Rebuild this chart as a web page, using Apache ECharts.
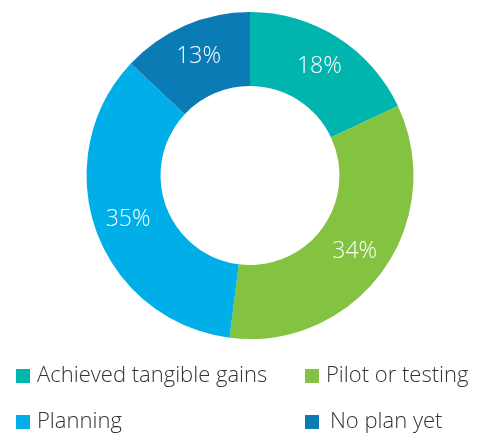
<!DOCTYPE html>
<html><head><meta charset="utf-8">
<script src="https://cdn.jsdelivr.net/npm/echarts@6/dist/echarts.min.js"></script>
<style>html,body{margin:0;padding:0;background:#fff}#c{width:482px;height:433px}</style>
</head><body><div id="c"></div>
<script>
var categories = ["Achieved tangible gains", "Pilot or testing", "Planning", "No plan yet"];
var values = [18, 34, 35, 13];
var colors = ["#00b5ad", "#84c341", "#00aee8", "#0a7bb5"];
var chart = echarts.init(document.getElementById('c'));
var base = {fontFamily: "Open Sans", fontWeight: 300, fontSize: 22, color: "#333"};
var legendText = Object.assign({}, base, {
  rich: {a: Object.assign({}, base, {padding: [0, 0, 0, 2]}),
         p: Object.assign({}, base, {padding: [0, 0, 0, 6]})}});
var pos = [[16, 365], [305, 365], [16, 411], [305, 411]];
var legends = categories.map(function(n, i){
  return {data: [n], orient: 'horizontal', left: pos[i][0], top: pos[i][1], padding: 0,
    itemWidth: 14, itemHeight: 14, icon: 'rect', textStyle: legendText, selectedMode: false,
    formatter: function(name){ return (name === categories[3] ? '{p|' : '{a|') + name + '}'; }};
});
chart.setOption({
  animation: false,
  color: colors,
  legend: legends,
  series: [{
    type: 'pie',
    center: [250, 175.5],
    radius: [89.5, 163.5],
    startAngle: 90,
    clockwise: true,
    silent: true,
    label: {position: 'inside', formatter: '{c}%', color: '#fff', fontFamily: 'Open Sans', fontWeight: 300, fontSize: 23},
    labelLine: {show: false},
    itemStyle: {borderWidth: 0},
    data: categories.map(function(n, i){ return {name: n, value: values[i]}; })
  }]
});
</script></body></html>
